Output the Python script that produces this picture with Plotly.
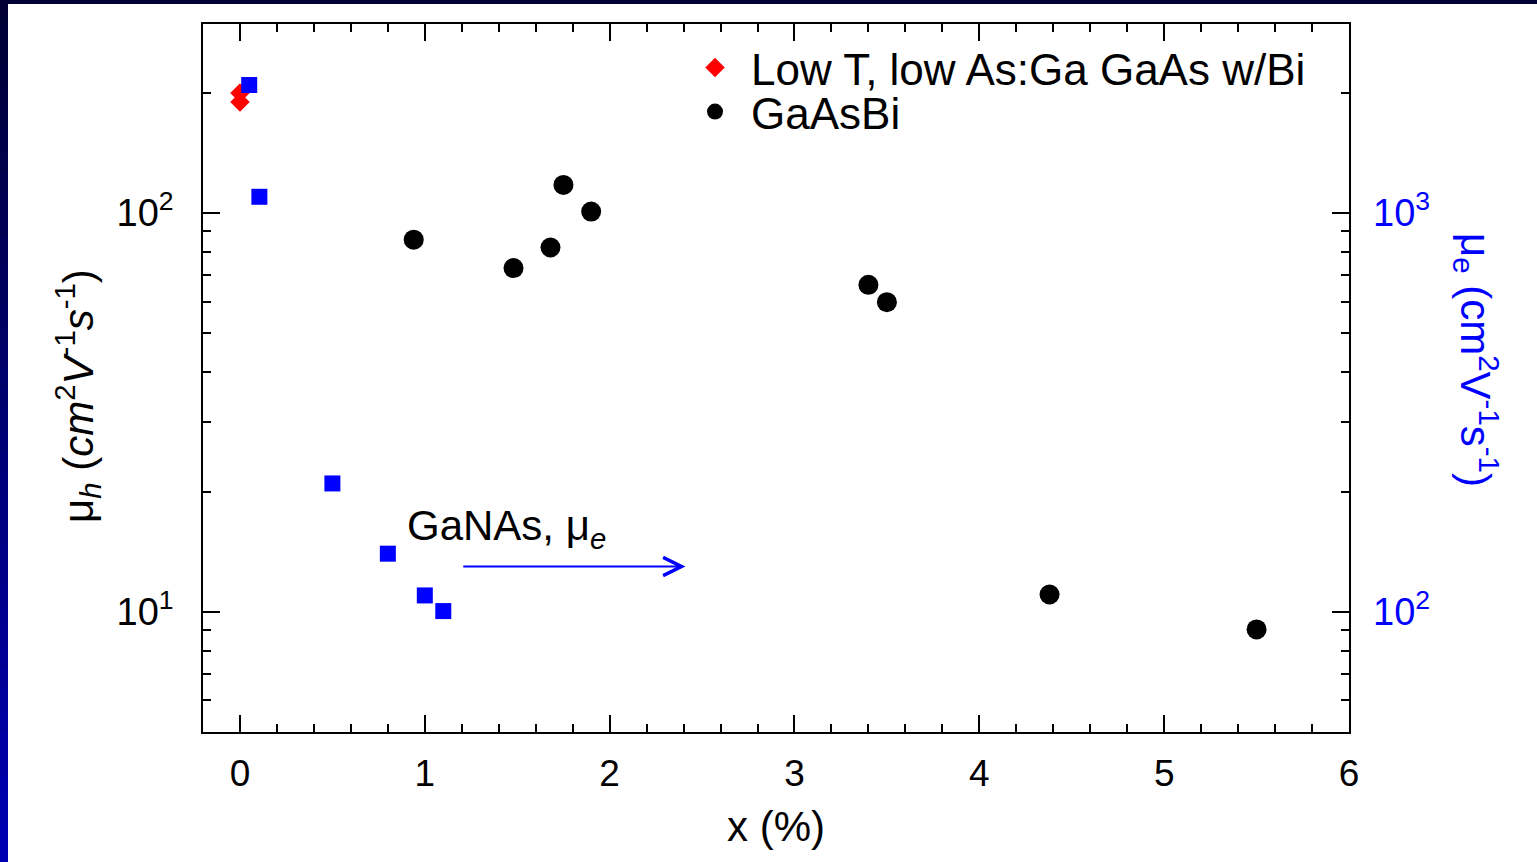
import math
import plotly.graph_objects as go

# ---------------- data ----------------
gaasbi_x = [0.94, 1.48, 1.68, 1.75, 1.90, 3.40, 3.50, 4.38, 5.50]
gaasbi_mu_h = [85.8, 72.8, 82.0, 117.7, 100.9, 66.1, 59.8, 11.06, 9.04]

lowt_x = [0.0, 0.0]
lowt_mu_h = [200.0, 190.0]

ganas_x = [0.05, 0.105, 0.50, 0.80, 1.00, 1.10]
ganas_mu_e = [2095.0, 1099.0, 210.0, 140.0, 110.0, 100.5]

x_ticks = [0, 1, 2, 3, 4, 5, 6]
x_ticktext = ["0", "1", "2", "3", "4", "5", "6"]
yl_ticks = [10, 100]
yl_ticktext = ["10<sup>1</sup>", "10<sup>2</sup>"]
yr_ticks = [100, 1000]
yr_ticktext = ["10<sup>2</sup>", "10<sup>3</sup>"]

# arrow annotation end points (x in %, y in left-axis units)
arrow_x0, arrow_x1, arrow_y = 1.20, 2.41, 13.0

FONT = "Liberation Sans, Arial, Helvetica, sans-serif"
BLUE = "#0000FF"

fig = go.Figure()

fig.add_trace(go.Scatter(
    x=lowt_x, y=lowt_mu_h, mode="markers", name="Low T, low As:Ga GaAs w/Bi",
    marker=dict(symbol="diamond", size=15, color="#FF0000", line=dict(width=0)),
    legend="legend",
))
fig.add_trace(go.Scatter(
    x=gaasbi_x, y=gaasbi_mu_h, mode="markers", name="GaAsBi",
    marker=dict(symbol="circle", size=20, color="#000000", line=dict(width=0)),
    legend="legend2",
))
fig.add_trace(go.Scatter(
    x=ganas_x, y=ganas_mu_e, mode="markers", name="GaNAs",
    marker=dict(symbol="square", size=16, color=BLUE, line=dict(width=0)),
    yaxis="y2", showlegend=False,
))

minor_left = [6, 7, 8, 9, 20, 30, 40, 50, 60, 70, 80, 90, 200, 300]
minor_right = [60, 70, 80, 90, 200, 300, 400, 500, 600, 700, 800, 900, 2000, 3000]

axis_common = dict(
    showgrid=False, zeroline=False, showline=True, linecolor="black", linewidth=1.5,
    ticks="inside", ticklen=17, tickwidth=1.5, tickcolor="black",
)

LEG_X = (679 - 203) / 1146

fig.update_layout(
    width=1537, height=862,
    margin=dict(l=203, r=188, t=24, b=130),
    paper_bgcolor="white", plot_bgcolor="white",
    font=dict(family=FONT, size=36, color="black"),
    xaxis=dict(
        **axis_common,
        range=[-0.2, 6.0], tickmode="array", tickvals=x_ticks, ticktext=x_ticktext,
        mirror="ticks",
        minor=dict(ticks="inside", ticklen=8, tickwidth=1.5, tickcolor="black", dtick=0.2, showgrid=False),
        tickfont=dict(size=37), ticklabelstandoff=8,
        title=dict(text="x (%)", font=dict(size=42), standoff=18),
    ),
    yaxis=dict(
        **axis_common,
        type="log", range=[math.log10(5), math.log10(298)], mirror=True,
        tickmode="array", tickvals=yl_ticks, ticktext=yl_ticktext,
        minor=dict(ticks="inside", ticklen=8, tickwidth=1.5, tickcolor="black",
                   tickmode="array", tickvals=minor_left, showgrid=False),
        tickfont=dict(size=38), ticklabelstandoff=20,
    ),
    yaxis2=dict(
        showgrid=False, zeroline=False, showline=False,
        ticks="inside", ticklen=17, tickwidth=1.5, tickcolor="black",
        overlaying="y", side="right",
        type="log", range=[math.log10(50), math.log10(2980)],
        tickmode="array", tickvals=yr_ticks, ticktext=yr_ticktext,
        minor=dict(ticks="inside", ticklen=8, tickwidth=1.5, tickcolor="black",
                   tickmode="array", tickvals=minor_right, showgrid=False),
        tickfont=dict(size=38, color=BLUE), ticklabelstandoff=23,
    ),
    legend=dict(
        x=LEG_X, y=(732 - 68) / 708, xanchor="left", yanchor="middle",
        bgcolor="rgba(0,0,0,0)", borderwidth=0, font=dict(size=44), itemwidth=62,
    ),
    legend2=dict(
        x=LEG_X, y=(732 - 112) / 708, xanchor="left", yanchor="middle",
        bgcolor="rgba(0,0,0,0)", borderwidth=0, font=dict(size=44), itemwidth=62,
    ),
    showlegend=True,
)

# axis titles as rotated annotations
fig.add_annotation(
    xref="paper", yref="paper", x=(78 - 203) / 1146, y=(732 - 396) / 708,
    text="μ<sub><i>h</i></sub> (<i>cm</i><sup>2</sup><i>V</i><sup>-1</sup><i>s</i><sup>-1</sup>)",
    textangle=-90, showarrow=False, xanchor="center", yanchor="middle",
    font=dict(size=42, color="black", family=FONT),
)
fig.add_annotation(
    xref="paper", yref="paper", x=(1476 - 203) / 1146, y=(732 - 360) / 708,
    text="μ<sub>e</sub> (cm<sup>2</sup>V<sup>-1</sup>s<sup>-1</sup>)",
    textangle=90, showarrow=False, xanchor="center", yanchor="middle",
    font=dict(size=42, color=BLUE, family=FONT),
)

# GaNAs label and arrow
fig.add_annotation(
    xref="x", yref="y", x=0.895, y=math.log10(16.2),
    text="GaNAs, μ<sub><i>e</i></sub>", showarrow=False,
    xanchor="left", yanchor="middle", font=dict(size=42, color="black", family=FONT),
)
fig.add_annotation(
    xref="x", yref="y", x=arrow_x1, y=math.log10(arrow_y),
    axref="x", ayref="y", ax=arrow_x0, ay=math.log10(arrow_y),
    text="", showarrow=True, arrowhead=5, arrowsize=1.8, arrowwidth=2,
    arrowcolor=BLUE, standoff=0, startstandoff=0,
)

# decorative slide border: top navy strip and left gradient strip
shapes = []
shapes.append(dict(type="rect", xref="paper", yref="paper",
                   x0=-0.2, x1=1.2, y0=(732 - 4) / 708, y1=1.1,
                   fillcolor="#000033", line=dict(width=0), layer="above"))
n = 40
top_px, bot_px = 0, 862
for i in range(n):
    p0 = top_px + (bot_px - top_px) * i / n
    p1 = top_px + (bot_px - top_px) * (i + 1) / n + 1
    t = (i + 0.5) / n
    b = int(round(0x33 + (0xB4 - 0x33) * t))
    shapes.append(dict(type="rect", xref="paper", yref="paper",
                       x0=-0.2, x1=(8 - 203) / 1146,
                       y0=(732 - p1) / 708, y1=(732 - p0) / 708,
                       fillcolor="#0000%02X" % b, line=dict(width=0), layer="above"))
fig.update_layout(shapes=shapes)

fig.write_html("out.html", config={"displayModeBar": False},
               post_script="document.body.style.margin='0px';")
